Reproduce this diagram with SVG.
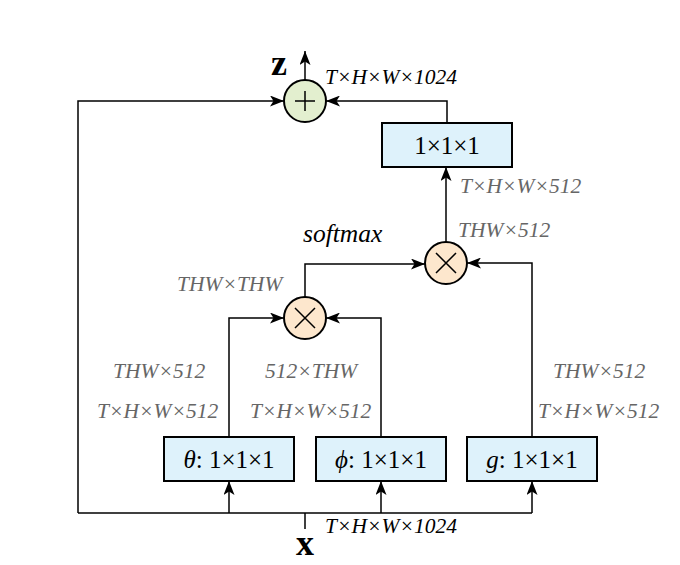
<svg xmlns="http://www.w3.org/2000/svg" width="680" height="565" viewBox="0 0 680 565">
<style>
.ln{fill:none;stroke:#000;stroke-width:1.5}
.box{fill:#def2fb;stroke:#000;stroke-width:2}
.add{fill:#e3efcf;stroke:#000;stroke-width:2}
.mul{fill:#fde7cd;stroke:#000;stroke-width:2}
.sym{stroke:#000;stroke-width:1.5;fill:none}
.bt{font-family:"Liberation Serif",serif;font-size:25px;fill:#000;text-anchor:middle}
.lb{font-family:"Liberation Serif",serif;font-size:21.5px;font-style:italic;fill:#666}
.lk{font-family:"Liberation Serif",serif;font-size:21.5px;font-style:italic;fill:#000}
.big{font-family:"Liberation Serif",serif;font-size:36px;font-weight:bold;fill:#000;text-anchor:middle}
</style>
<defs>
<marker id="ah" viewBox="0 0 14 11" refX="14" refY="5.5" markerWidth="14" markerHeight="11" markerUnits="userSpaceOnUse" orient="auto">
<path d="M0,0 L14,5.5 L0,11 L3.5,5.5 z" fill="#000"/>
</marker>
</defs>
<g id="connectors">
<path class="ln" d="M305,80 V51" marker-end="url(#ah)"/>
<path class="ln" d="M78,513 V101 H284" marker-end="url(#ah)"/>
<path class="ln" d="M447,123 V101 H326" marker-end="url(#ah)"/>
<path class="ln" d="M446,242 V167" marker-end="url(#ah)"/>
<path class="ln" d="M305,297 V264 H425" marker-end="url(#ah)"/>
<path class="ln" d="M532,437 V263 H467" marker-end="url(#ah)"/>
<path class="ln" d="M229,437 V318 H284" marker-end="url(#ah)"/>
<path class="ln" d="M381,437 V318 H326" marker-end="url(#ah)"/>
<path class="ln" d="M78,513 H532"/>
<path class="ln" d="M305,513 V529"/>
<path class="ln" d="M229,513 V481" marker-end="url(#ah)"/>
<path class="ln" d="M381,513 V481" marker-end="url(#ah)"/>
<path class="ln" d="M532,513 V481" marker-end="url(#ah)"/>
</g>
<g id="add">
<circle class="add" cx="305" cy="101" r="21"/>
<path class="sym" d="M295,101 H315 M305,91 V111"/>
</g>
<g id="mul2">
<circle class="mul" cx="446" cy="263" r="21"/>
<path class="sym" d="M436,253 L456,273 M456,253 L436,273"/>
</g>
<g id="mul1">
<circle class="mul" cx="305" cy="318" r="21"/>
<path class="sym" d="M295,308 L315,328 M315,308 L295,328"/>
</g>
<g id="out">
<rect class="box" x="382" y="123" width="130" height="44"/>
<text class="bt" x="447" y="154">1×1×1</text>
</g>
<g id="theta">
<rect class="box" x="164" y="437" width="130" height="44"/>
<text class="bt" x="229" y="468"><tspan font-style="italic">θ</tspan>: 1×1×1</text>
</g>
<g id="phi">
<rect class="box" x="316" y="437" width="130" height="44"/>
<text class="bt" x="381" y="468"><tspan font-style="italic">ϕ</tspan>: 1×1×1</text>
</g>
<g id="g">
<rect class="box" x="467" y="437" width="130" height="44"/>
<text class="bt" x="532" y="468"><tspan font-style="italic">g</tspan>: 1×1×1</text>
</g>
<g id="labels">
<text class="big" x="279" y="75">z</text>
<text class="big" x="305" y="555">x</text>
<text class="lk" x="325" y="84">T×H×W×1024</text>
<text class="lk" x="325" y="533">T×H×W×1024</text>
<text class="lb" x="460" y="193">T×H×W×512</text>
<text class="lb" x="458" y="237">THW×512</text>
<text class="lk" x="303" y="242" style="font-size:25.5px">softmax</text>
<text class="lb" x="177" y="291">THW×THW</text>
<text class="lb" x="113" y="378">THW×512</text>
<text class="lb" x="265" y="378">512×THW</text>
<text class="lb" x="553" y="378">THW×512</text>
<text class="lb" x="97" y="418">T×H×W×512</text>
<text class="lb" x="250" y="418">T×H×W×512</text>
<text class="lb" x="538" y="418">T×H×W×512</text>
</g>
</svg>
